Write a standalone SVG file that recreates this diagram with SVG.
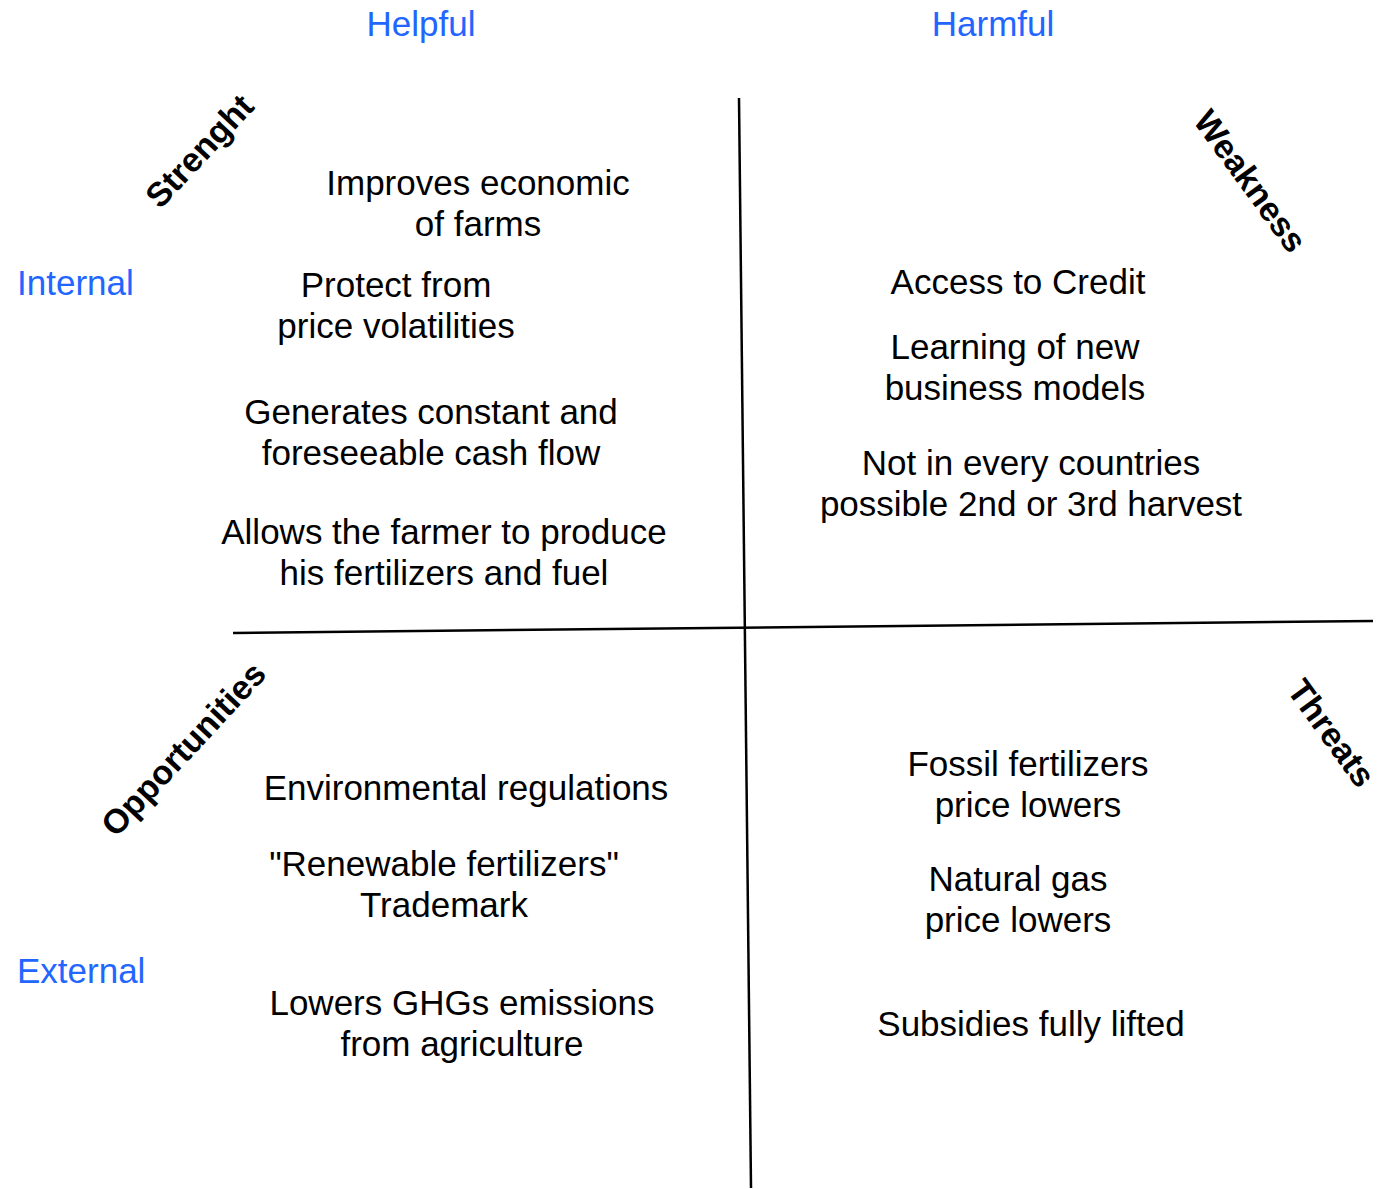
<svg xmlns="http://www.w3.org/2000/svg" width="1383" height="1189" viewBox="0 0 1383 1189">
<style>
.t{font-family:"Liberation Sans",Arial,sans-serif;font-size:35px;fill:#000;text-anchor:middle}
.b{font-family:"Liberation Sans",Arial,sans-serif;font-size:34px;font-weight:bold;fill:#000;text-anchor:middle}
.l{font-family:"Liberation Sans",Arial,sans-serif;font-size:35px;fill:#2266ff}
.ln{stroke:#000;stroke-width:2.5;fill:none}
</style>
<rect width="1383" height="1189" fill="#fff"/>
<g id="connectors">
<line class="ln" x1="739" y1="98" x2="751" y2="1188"/>
<line class="ln" x1="233" y1="633" x2="1373" y2="621"/>
</g>
<g id="axis-labels">
<text class="l" x="421" y="36" text-anchor="middle">Helpful</text>
<text class="l" x="993" y="36" text-anchor="middle">Harmful</text>
<text class="l" x="17" y="295">Internal</text>
<text class="l" x="17" y="983">External</text>
</g>
<g id="quadrant-titles">
<text class="b" transform="translate(208,159) rotate(-47)">Strenght</text>
<text class="b" transform="translate(1241,188) rotate(54)">Weakness</text>
<text class="b" transform="translate(192,757) rotate(-47)">Opportunities</text>
<text class="b" transform="translate(1322,740) rotate(54)">Threats</text>
</g>
<g id="strengths">
<text class="t" x="478" y="195">Improves economic</text>
<text class="t" x="478" y="236">of farms</text>
<text class="t" x="396" y="297">Protect from</text>
<text class="t" x="396" y="338">price volatilities</text>
<text class="t" x="431" y="424">Generates constant and</text>
<text class="t" x="431" y="465">foreseeable cash flow</text>
<text class="t" x="444" y="544">Allows the farmer to produce</text>
<text class="t" x="444" y="585">his fertilizers and fuel</text>
</g>
<g id="weaknesses">
<text class="t" x="1018" y="294">Access to Credit</text>
<text class="t" x="1015" y="359">Learning of new</text>
<text class="t" x="1015" y="400">business models</text>
<text class="t" x="1031" y="475">Not in every countries</text>
<text class="t" x="1031" y="516">possible 2nd or 3rd harvest</text>
</g>
<g id="opportunities">
<text class="t" x="466" y="800">Environmental regulations</text>
<text class="t" x="444" y="876">"Renewable fertilizers"</text>
<text class="t" x="444" y="917">Trademark</text>
<text class="t" x="462" y="1015">Lowers GHGs emissions</text>
<text class="t" x="462" y="1056">from agriculture</text>
</g>
<g id="threats">
<text class="t" x="1028" y="776">Fossil fertilizers</text>
<text class="t" x="1028" y="817">price lowers</text>
<text class="t" x="1018" y="891">Natural gas</text>
<text class="t" x="1018" y="932">price lowers</text>
<text class="t" x="1031" y="1036">Subsidies fully lifted</text>
</g>
</svg>
